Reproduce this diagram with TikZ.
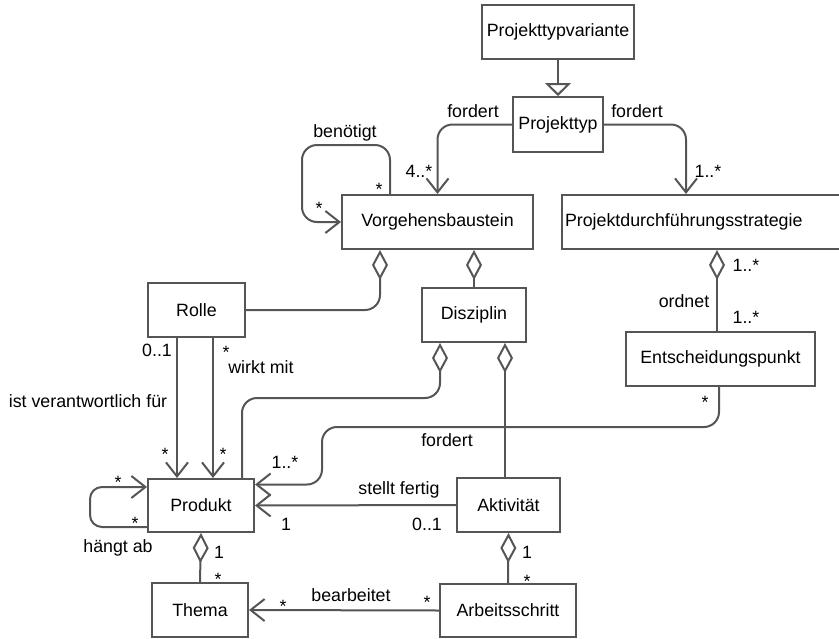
\documentclass[tikz,border=0pt]{standalone}
\usepackage{fontspec}
\setmainfont{Liberation Sans}
\usetikzlibrary{arrows.meta}
\definecolor{ln}{RGB}{85,85,85}
\begin{document}
\begin{tikzpicture}[x=1pt,y=-1pt,
  every node/.style={font=\fontsize{17.8}{20}\selectfont, text=black},
  box/.style={draw=ln, line width=2pt, inner sep=0pt},
  conn/.style={draw=ln, line width=2pt},
  opena/.style={conn, -{Straight Barb[length=14pt,width=22pt]}},
  diam/.style={conn, {Diamond[open,length=30pt,width=16pt]}-},
  star/.style={yshift=-4pt, inner sep=0pt},
  lab/.style={inner sep=0pt}]
\useasboundingbox (0,0) rectangle (839,638);
% boxes
\node[box, minimum width=152pt, minimum height=54pt] (ptv) at (558,32) {Projekttypvariante};
\node[box, minimum width=90pt, minimum height=55pt] (pt) at (558,124.5) {Projekttyp};
\node[box, minimum width=191pt, minimum height=54pt] (vb) at (437.5,222) {Vorgehensbaustein};
\node[box, minimum height=54pt, text width=294pt, align=left, inner xsep=3pt] (pds) at (712,222) {Projektdurchführungsstrategie};
\node[box, minimum width=97pt, minimum height=54pt] (rolle) at (196.5,310) {Rolle};
\node[box, minimum width=104pt, minimum height=54pt] (dis) at (474,315) {Disziplin};
\node[box, minimum width=189pt, minimum height=54pt] (ent) at (720.5,359) {Entscheidungspunkt};
\node[box, minimum width=106pt, minimum height=53pt] (prod) at (201,505.5) {Produkt};
\node[box, minimum width=103pt, minimum height=54pt] (akt) at (508.5,505) {Aktivität};
\node[box, minimum width=136pt, minimum height=53pt] (arb) at (508,610.5) {Arbeitsschritt};
\node[box, minimum width=96pt, minimum height=54pt] (thema) at (200,610) {Thema};
% generalization
\draw[conn, -{Triangle[open,length=13pt,width=26pt]}] (ptv) -- (pt);
% fordert
\draw[opena, rounded corners=15pt] (pt.west) -| (vb.north);
\draw[opena, rounded corners=15pt] (pt.east) -| ([xshift=125pt]pds.north west);
% benoetigt loop
\draw[opena, rounded corners=15pt] ([xshift=-47.5pt]vb.north) |- (302,145) |- (vb.west);
% aggregations
\draw[diam, rounded corners=15pt] ([xshift=-57.5pt]vb.south) |- (rolle.east);
\draw[diam] (vb.south -| dis.north) -- (dis.north);
\draw[diam] ([xshift=-3.5pt]ent.north |- pds.south) -- ([xshift=-3.5pt]ent.north);
\draw[diam, rounded corners=15pt] ([xshift=-34pt]dis.south) -- ++(0,55) -| ([xshift=41pt]prod.north);
\draw[diam] ([xshift=31pt]dis.south) -- ([xshift=31pt]dis.south |- akt.north);
\draw[diam] (akt.south) -- (arb.north);
\draw[diam] (prod.south) -- (thema.north);
% ent -> prod
\draw[opena, rounded corners=15pt] ([xshift=-1.5pt]ent.south) |- (322,427) |- ([yshift=21pt]prod.east);
% rolle -> prod
\draw[opena] ([xshift=-19.5pt]rolle.south) -- ([xshift=-19.5pt]rolle.south |- prod.north);
\draw[opena] ([xshift=16.5pt]rolle.south) -- ([xshift=16.5pt]rolle.south |- prod.north);
% prod loop
\draw[opena, rounded corners=12pt] ([yshift=-21.5pt]prod.west) -| (90,487) -- ([yshift=18.5pt]prod.west);
% stellt fertig
\draw[opena] (akt.west) -- (prod.east);
% bearbeitet
\draw[opena] (arb.west) -- (thema.east);
% labels
\node[lab] (l1) at (473,111) {fordert};
\node[lab] (l2) at (637,111) {fordert};
\node[lab] (l3) at (345,133) {benötigt};
\node[lab] (l4) at (419,171) {4..*};
\node[lab] (l5) at (708,171) {1..*};
\node[star] (s1) at (379,185) {*};
\node[star] (s2) at (319,204) {*};
\node[lab] (l6) at (746,265) {1..*};
\node[lab] (l7) at (684,301) {ordnet};
\node[lab] (l8) at (746,317) {1..*};
\node[star] (s3) at (705,398) {*};
\node[lab] (l9) at (447,440) {fordert};
\node[lab] (l10) at (157,350) {0..1};
\node[star] (s4) at (226,348) {*};
\node[lab] (l11) at (261,367) {wirkt mit};
\node[lab] (l12) at (88,401) {ist verantwortlich für};
\node[star] (s5) at (165,450) {*};
\node[star] (s6) at (223,450) {*};
\node[lab] (l13) at (285,462) {1..*};
\node[lab] (l14) at (399,490) {stellt fertig};
\node[lab] (l15) at (286,524) {1};
\node[lab] (l16) at (427,524) {0..1};
\node[star] (s7) at (118,478) {*};
\node[star] (s8) at (135,519) {*};
\node[lab] (l17) at (118,548) {hängt ab};
\node[lab] (l18) at (219,552) {1};
\node[star] (s9) at (218,575) {*};
\node[star] (s10) at (283,602) {*};
\node[lab] (l19) at (351,595) {bearbeitet};
\node[star] (s11) at (427,598) {*};
\node[lab] (l20) at (527,552) {1};
\node[star] (s12) at (527,577) {*};
\end{tikzpicture}
\end{document}
